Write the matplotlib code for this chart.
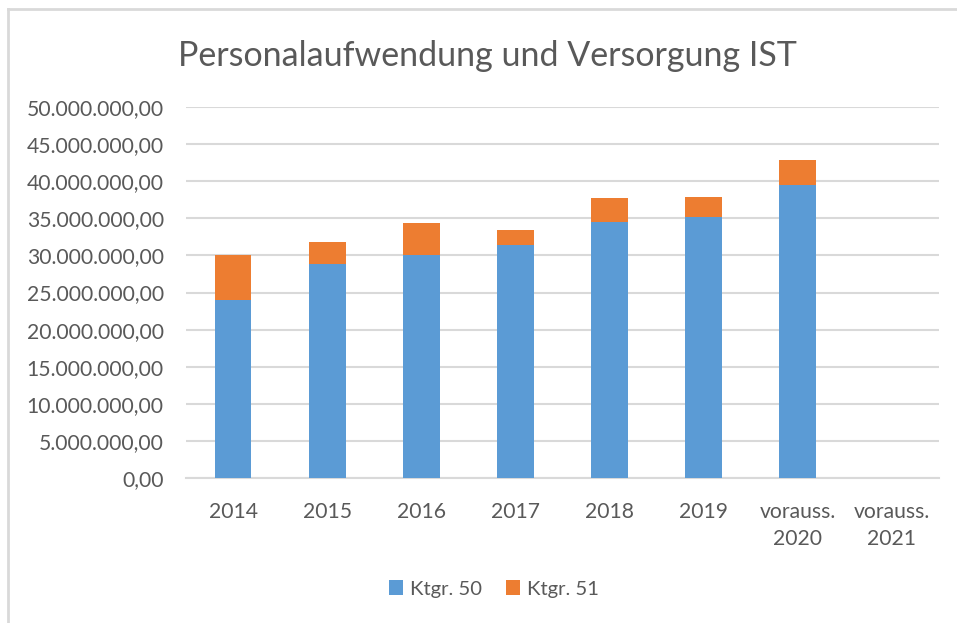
import matplotlib
matplotlib.use("Agg")
import matplotlib.pyplot as plt
import numpy as np
from matplotlib.lines import Line2D

# Werte
kategorien = ["2014", "2015", "2016", "2017", "2018", "2019", "vorauss.\n2020", "vorauss.\n2021"]
ktgr_50 = [24.05e6, 28.9e6, 30.1e6, 31.35e6, 34.45e6, 35.2e6, 39.5e6, 0]
ktgr_51 = [6.05e6, 2.95e6, 4.2e6, 2.05e6, 3.3e6, 2.7e6, 3.4e6, 0]
y_ticks = np.arange(0, 50e6 + 1, 5e6)

BLAU = "#5B9BD5"
ORANGE = "#ED7D31"
GRAU_TEXT = "#595959"
GRAU_LINIE = "#D9D9D9"


def de_format(v, pos=None):
    """Zahl im deutschen Format"""
    s = f"{v:,.2f}"
    return s.replace(",", "X").replace(".", ",").replace("X", ".")


def main():
    plt.rcParams['font.family'] = ['Lato', 'DejaVu Sans']
    fig = plt.figure(figsize=(9.57, 6.23), dpi=100)
    ax = fig.add_axes([186 / 957, 145 / 623, 753 / 957, 371 / 623])

    x = np.arange(len(kategorien))
    ax.bar(x, ktgr_50, width=0.39, color=BLAU, label="Ktgr. 50", zorder=3)
    ax.bar(x, ktgr_51, width=0.39, bottom=ktgr_50, color=ORANGE, label="Ktgr. 51", zorder=3)

    ax.set_xlim(-0.5, len(kategorien) - 0.5)
    ax.set_ylim(0, 50e6)
    ax.set_yticks(y_ticks)
    ax.yaxis.set_major_formatter(plt.FuncFormatter(de_format))
    ax.set_xticks(x)
    ax.set_xticklabels(kategorien)

    ax.grid(axis='y', color=GRAU_LINIE, linewidth=1.5, zorder=0)
    for s in ["top", "right", "left"]:
        ax.spines[s].set_visible(False)
    ax.spines["bottom"].set_color(GRAU_LINIE)
    ax.spines["bottom"].set_linewidth(1.5)
    ax.tick_params(axis='both', length=0, colors=GRAU_TEXT, labelsize=15.2)
    ax.tick_params(axis='y', pad=16)
    ax.tick_params(axis='x', pad=17)
    for lab in ax.get_xticklabels():
        lab.set_verticalalignment('top')
        lab.set_linespacing(1.45)

    fig.text(487 / 957, 1 - 56 / 623, "Personalaufwendung und Versorgung IST",
             ha='center', va='center', fontsize=24.5, color=GRAU_TEXT)

    fig.legend(loc='center', bbox_to_anchor=(494 / 957, 1 - 589 / 623), ncol=2,
               frameon=False, fontsize=14.6, labelcolor=GRAU_TEXT,
               handlelength=0.7, handleheight=0.7, handletextpad=0.35, columnspacing=1.2)

    # Rahmen oben und links (Screenshot)
    fig.add_artist(Line2D([8 / 957, 1], [1 - 9 / 623, 1 - 9 / 623], color=GRAU_LINIE, linewidth=2))
    fig.add_artist(Line2D([8 / 957, 8 / 957], [0, 1 - 9 / 623], color=GRAU_LINIE, linewidth=2))

    fig.savefig("out.png", dpi=100, facecolor="white")


if __name__ == '__main__':
    main()
